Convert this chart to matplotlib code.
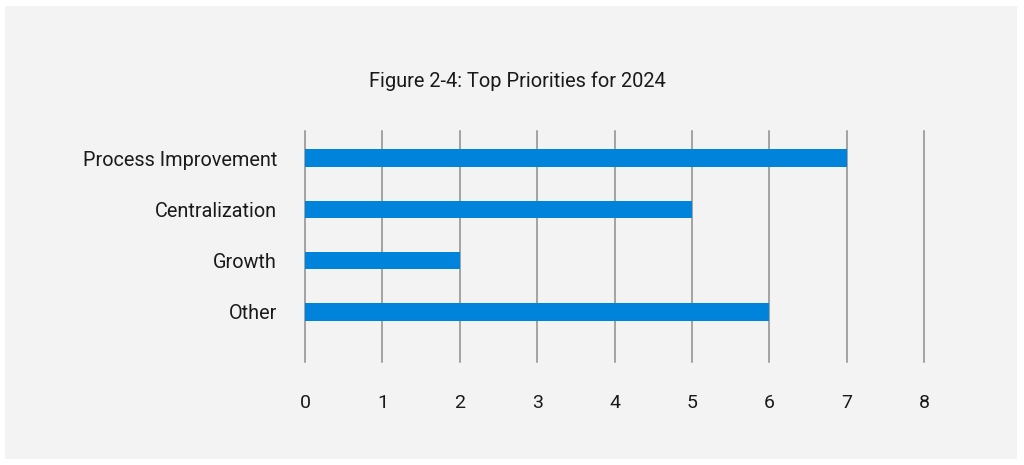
import matplotlib
matplotlib.use("Agg")
import matplotlib.pyplot as plt
from matplotlib.patches import Rectangle

plt.rcParams['font.family'] = ['Roboto', 'DejaVu Sans']

# data
categories = ["Process Improvement", "Centralization", "Growth", "Other"]
counts = [7, 5, 2, 6]
x_ticks = [0, 1, 2, 3, 4, 5, 6, 7, 8]
title = "Figure 2-4: Top Priorities for 2024"

bar_color = "#0083db"
grid_color = "#8c8c8c"
panel_color = "#f3f3f3"
text_color = "#1a1a1a"

fig = plt.figure(figsize=(10.24, 4.65), dpi=100, facecolor="white")

# light gray panel behind everything
fig.patches.append(Rectangle((5 / 1024, 6 / 465), 1012 / 1024, 453 / 465,
                             transform=fig.transFigure, facecolor=panel_color,
                             edgecolor="none", zorder=-1))

ax = fig.add_axes([305 / 1024, 103 / 465, 619 / 1024, 231 / 465])
ax.set_facecolor("none")
ax.set_zorder(2)

ypos = list(range(len(categories)))
ax.barh(ypos, counts, height=0.34, color=bar_color, zorder=3)

ax.set_xlim(0, 8)
ax.set_ylim(3.98, -0.53)
ax.set_xticks(x_ticks)
ax.set_yticks(ypos)
ax.set_yticklabels(categories)

ax.grid(axis="x", color=grid_color, linewidth=1.1, zorder=1)
for line in ax.get_xgridlines():
    line.set_clip_on(False)
for s in ax.spines.values():
    s.set_visible(False)

ax.tick_params(axis="x", length=0, pad=23, labelsize=14, colors=text_color)
ax.tick_params(axis="y", length=0, pad=20, labelsize=14.3, colors=text_color)

fig.text(517 / 1024, 1 - 81 / 465, title, ha="center", va="center",
         fontsize=14.4, color=text_color)

fig.savefig("out.png", dpi=100, facecolor=fig.get_facecolor())
